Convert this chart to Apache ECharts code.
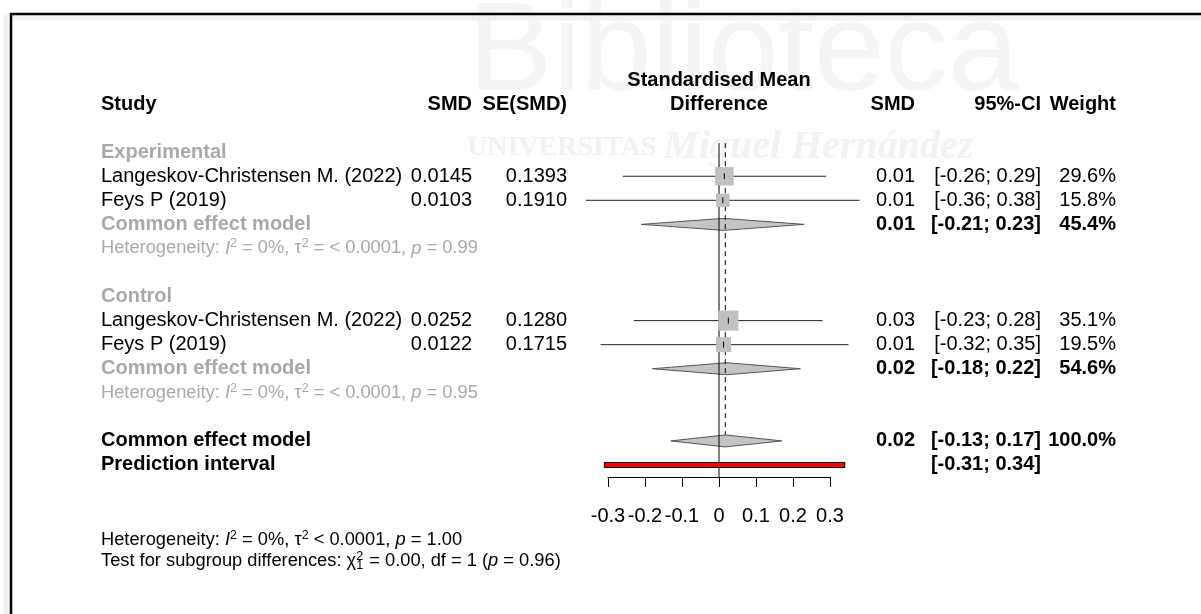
<!DOCTYPE html>
<html><head><meta charset="utf-8">
<script src="https://cdn.jsdelivr.net/npm/echarts@6/dist/echarts.min.js"></script>
<style>html,body{margin:0;padding:0;background:#fff}#c{width:1201px;height:614px}</style>
</head><body><div id="c"></div>
<script>
// ---------- data ----------
const expStudies = ['Langeskov-Christensen M. (2022)', 'Feys P (2019)'];
const expSMD = [0.0145, 0.0103];
const expSE = [0.1393, 0.1910];
const expLower = [-0.26, -0.36];
const expUpper = [0.29, 0.38];
const expWeight = [29.6, 15.8];

const ctrlStudies = ['Langeskov-Christensen M. (2022)', 'Feys P (2019)'];
const ctrlSMD = [0.0252, 0.0122];
const ctrlSE = [0.1280, 0.1715];
const ctrlLower = [-0.23, -0.32];
const ctrlUpper = [0.28, 0.35];
const ctrlWeight = [35.1, 19.5];

const subgroupNames = ['Experimental', 'Control'];
const pooledLabels = ['Common effect model', 'Common effect model', 'Common effect model'];
const pooledEst = [0.013, 0.021, 0.017];
const pooledLower = [-0.21, -0.18, -0.13];
const pooledUpper = [0.23, 0.22, 0.17];
const pooledWeight = [45.4, 54.6, 100.0];
const predInterval = [-0.31, 0.34];
const hetPvalues = ['0.99', '0.95'];
const xTicks = [-0.3, -0.2, -0.1, 0, 0.1, 0.2, 0.3];

// ---------- layout ----------
const FF = "'Liberation Sans', Arial, Helvetica, sans-serif";
const FS = 20, FH = 18.3;
const GRAY = '#a9a9a9';
const COL = {name: 101, smd: 472, se: 567, mid: 719, rsmd: 915, ci: 1041, w: 1116};
const ROWS = {h1: -3, h2: -2, exp: 0, ctrl: 6, overall: 12, pred: 13, f1: 16.1, f2: 17.0};

const fmtCI = (l, u) => '[' + l.toFixed(2) + '; ' + u.toFixed(2) + ']';

// study marks
const studyData = [];
expSMD.forEach((v, i) => studyData.push([v, expLower[i], expUpper[i], expWeight[i], ROWS.exp + 1 + i]));
ctrlSMD.forEach((v, i) => studyData.push([v, ctrlLower[i], ctrlUpper[i], ctrlWeight[i], ROWS.ctrl + 1 + i]));
const pooledRows = [ROWS.exp + 3, ROWS.ctrl + 3, ROWS.overall];
const pooledData = pooledEst.map((v, i) => [v, pooledLower[i], pooledUpper[i], pooledRows[i]]);

// texts
const texts = [];
function T(row, x, text, align, opt) { texts.push(Object.assign({row, x, text, align}, opt || {})); }
T(ROWS.h1, COL.mid, 'Standardised Mean', 'center', {bold: true});
T(ROWS.h2, COL.mid, 'Difference', 'center', {bold: true});
T(ROWS.h2, COL.name, 'Study', 'left', {bold: true});
T(ROWS.h2, COL.smd, 'SMD', 'right', {bold: true});
T(ROWS.h2, COL.se, 'SE(SMD)', 'right', {bold: true});
T(ROWS.h2, COL.rsmd, 'SMD', 'right', {bold: true});
T(ROWS.h2, COL.ci, '95%-CI', 'right', {bold: true});
T(ROWS.h2, COL.w, 'Weight', 'right', {bold: true});

function studyRows(base, names, smd, se, lo, up, w) {
  names.forEach((n, i) => {
    const r = base + 1 + i;
    T(r, COL.name, n, 'left');
    T(r, COL.smd, smd[i].toFixed(4), 'right');
    T(r, COL.se, se[i].toFixed(4), 'right');
    T(r, COL.rsmd, smd[i].toFixed(2), 'right');
    T(r, COL.ci, fmtCI(lo[i], up[i]), 'right');
    T(r, COL.w, w[i].toFixed(1) + '%', 'right');
  });
}
const groupBases = [ROWS.exp, ROWS.ctrl];
subgroupNames.forEach((g, k) => T(groupBases[k], COL.name, g, 'left', {bold: true, color: GRAY}));
studyRows(ROWS.exp, expStudies, expSMD, expSE, expLower, expUpper, expWeight);
studyRows(ROWS.ctrl, ctrlStudies, ctrlSMD, ctrlSE, ctrlLower, ctrlUpper, ctrlWeight);
pooledEst.forEach((v, i) => {
  const r = pooledRows[i];
  T(r, COL.name, pooledLabels[i], 'left', {bold: true, color: i < 2 ? GRAY : '#000'});
  T(r, COL.rsmd, v.toFixed(2), 'right', {bold: true});
  T(r, COL.ci, fmtCI(pooledLower[i], pooledUpper[i]), 'right', {bold: true});
  T(r, COL.w, pooledWeight[i].toFixed(1) + '%', 'right', {bold: true});
});
T(ROWS.pred, COL.name, 'Prediction interval', 'left', {bold: true});
T(ROWS.pred, COL.ci, fmtCI(predInterval[0], predInterval[1]), 'right', {bold: true});

function richSet(color) {
  return {
    it: {fontStyle: 'italic', fontSize: FH, fontFamily: FF, fill: color},
    sup: {fontSize: 12.5, fontFamily: FF, fill: color, verticalAlign: 'top', lineHeight: 4},
    supz: {fontSize: 12.5, fontFamily: FF, fill: color, verticalAlign: 'top', lineHeight: 4, width: 0, align: 'left'},
    sub: {fontSize: 12.5, fontFamily: FF, fill: color, verticalAlign: 'bottom', lineHeight: 4, padding: [0, 1, 0, 0]}
  };
}
hetPvalues.forEach((p, k) => T(groupBases[k] + 4, COL.name,
  'Heterogeneity: {it|I}{sup|2} = 0%, τ{sup|2} = < 0.0001, {it|p} = ' + p, 'left',
  {small: true, color: GRAY, rich: richSet(GRAY)}));
T(ROWS.f1, COL.name, 'Heterogeneity: {it|I}{sup|2} = 0%, τ{sup|2} < 0.0001, {it|p} = 1.00', 'left',
  {small: true, color: '#000', rich: richSet('#000')});
T(ROWS.f2, COL.name, 'Test for subgroup differences: χ{supz|2}{sub|1} = 0.00, df = 1 ({it|p} = 0.96)', 'left',
  {small: true, color: '#000', rich: richSet('#000')});

const chart = echarts.init(document.getElementById('c'), null, {renderer: 'canvas'});
chart.setOption({
  animation: false,
  backgroundColor: '#fff',
  grid: {left: 608, right: 371, top: 80, bottom: 137},
  xAxis: {
    type: 'value', position: 'bottom', min: xTicks[0], max: xTicks[xTicks.length - 1], interval: 0.1,
    splitLine: {show: false},
    axisLine: {show: true, onZero: false, lineStyle: {color: '#000', width: 1}},
    axisTick: {show: true, length: 10, lineStyle: {color: '#000'}},
    axisLabel: {color: '#000', fontSize: FS, fontFamily: FF, margin: 29,
      formatter: v => String(Math.round(v * 10) / 10)}
  },
  yAxis: {type: 'value', inverse: true, min: -3, max: 13.5, show: false},
  graphic: [
    {type: 'text', z: -10, style: {text: 'Biblioteca', x: 468, y: 118, fontSize: 127, fontFamily: FF, fill: '#f5f5f5', verticalAlign: 'bottom'}},
    {type: 'text', z: -10, style: {text: 'UNIVERSITAS {i|Miguel Hernández}', x: 467, y: 148, fontSize: 28, fontWeight: 'bold', fontFamily: "'Liberation Serif', serif", fill: '#f2f2f2', verticalAlign: 'middle',
      rich: {i: {fontSize: 40, fontStyle: 'italic', fontWeight: 'bold', fontFamily: "'Liberation Serif', serif", fill: '#f2f2f2'}}}},
    {type: 'line', shape: {x1: 11, y1: 18, x2: 1201, y2: 18}, style: {stroke: '#f0f0f0', lineWidth: 5}},
    {type: 'line', shape: {x1: 6, y1: 14, x2: 6, y2: 614}, style: {stroke: '#f2f2f2', lineWidth: 5}},
    {type: 'polyline', shape: {points: [[11, 614], [11, 14], [1201, 14]]}, style: {stroke: '#000', lineWidth: 2.5, fill: null}}
  ],
  series: [
    { // reference lines
      type: 'custom', clip: false, z: 3,
      data: [[0, -0.375, 13.5, 0], [pooledEst[2], -0.375, 11.75, 1]],
      renderItem: (params, api) => {
        const a = api.coord([api.value(0), api.value(1)]);
        const b = api.coord([api.value(0), api.value(2)]);
        return {type: 'line', shape: {x1: a[0], y1: a[1], x2: b[0], y2: b[1]},
          style: {stroke: '#000', lineWidth: 1, lineDash: api.value(3) ? [5, 4] : null}};
      }
    },
    { // pooled diamonds
      type: 'custom', clip: false, z: 2,
      data: pooledData,
      renderItem: (params, api) => {
        const c = api.coord([api.value(0), api.value(3)]);
        const l = api.coord([api.value(1), api.value(3)]);
        const u = api.coord([api.value(2), api.value(3)]);
        const h = 6;
        return {type: 'polygon', shape: {points: [[l[0], c[1]], [c[0], c[1] - h], [u[0], c[1]], [c[0], c[1] + h]]},
          style: {fill: '#c4c4c4', stroke: '#555', lineWidth: 1}};
      }
    },
    { // prediction interval
      type: 'custom', clip: false, z: 4,
      data: [[predInterval[0], predInterval[1], ROWS.pred]],
      renderItem: (params, api) => {
        const l = api.coord([api.value(0), api.value(2)]);
        const u = api.coord([api.value(1), api.value(2)]);
        return {type: 'rect', shape: {x: l[0], y: l[1] - 2.5, width: u[0] - l[0], height: 5},
          style: {fill: '#ff0000', stroke: '#000', lineWidth: 1}};
      }
    },
    { // study CIs + squares
      type: 'custom', clip: false, z: 5,
      data: studyData,
      renderItem: (params, api) => {
        const row = api.value(4);
        const c = api.coord([api.value(0), row]);
        const l = api.coord([api.value(1), row]);
        const u = api.coord([api.value(2), row]);
        const s = 3.4 * Math.sqrt(api.value(3));
        return {type: 'group', children: [
          {type: 'line', shape: {x1: l[0], y1: c[1], x2: u[0], y2: c[1]}, style: {stroke: '#222', lineWidth: 1}},
          {type: 'rect', shape: {x: c[0] - s / 2, y: c[1] - s / 2, width: s, height: s}, style: {fill: '#c0c0c0'}},
          {type: 'line', shape: {x1: c[0], y1: c[1] - 3, x2: c[0], y2: c[1] + 3}, style: {stroke: '#000', lineWidth: 1}}
        ]};
      }
    },
    { // text table
      type: 'custom', clip: false, z: 6, silent: true,
      data: texts.map(t => [0, t.row]),
      renderItem: (params, api) => {
        const t = texts[params.dataIndex];
        const y = api.coord([0, t.row])[1];
        const style = {
          text: t.text, x: t.x, y: y,
          fill: t.color || '#000',
          fontSize: t.small ? FH : FS, fontFamily: FF,
          fontWeight: t.bold ? 'bold' : 'normal',
          align: t.align, verticalAlign: 'middle'
        };
        if (t.rich) { style.rich = t.rich; style.lineHeight = 22; }
        return {type: 'text', style: style};
      }
    }
  ]
});
</script></body></html>
